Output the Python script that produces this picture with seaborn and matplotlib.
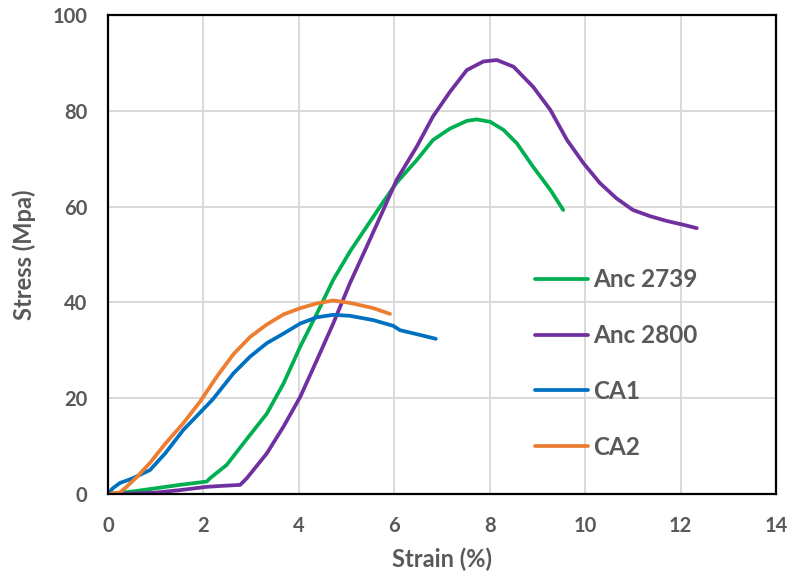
import matplotlib
matplotlib.use("Agg")
import matplotlib.pyplot as plt
import seaborn as sns
import pandas as pd

# Stress-strain curves (strain in %, stress in MPa)
anc2739_strain = [0, 0.5, 1.0, 1.5, 2.07, 2.14, 2.49, 2.84, 3.33, 3.68, 4.03, 4.38, 4.72,
                  5.07, 5.42, 5.77, 6.05, 6.47, 6.81, 7.17, 7.52, 7.73, 8.01, 8.29, 8.57,
                  8.91, 9.27, 9.54]
anc2739_stress = [0, 0.5, 1.2, 1.9, 2.6, 3.3, 6.1, 10.6, 16.8, 23.1, 30.8, 37.7, 44.7,
                  50.6, 55.8, 61.0, 65.0, 69.7, 73.9, 76.3, 77.9, 78.2, 77.7, 76.0, 73.2,
                  68.3, 63.5, 59.3]

anc2800_strain = [0, 0.5, 1.0, 1.5, 2.07, 2.4, 2.77, 2.91, 3.33, 3.68, 4.03, 4.38, 4.72,
                  5.07, 5.42, 5.77, 6.05, 6.47, 6.81, 7.17, 7.52, 7.87, 8.15, 8.5, 8.91,
                  9.27, 9.62, 9.97, 10.31, 10.66, 11.0, 11.36, 11.71, 12.06, 12.34]
anc2800_stress = [0, 0.1, 0.3, 0.8, 1.5, 1.7, 1.9, 3.3, 8.5, 14.1, 20.3, 28.0, 35.6,
                  44.0, 51.6, 59.3, 65.6, 72.5, 78.8, 84.0, 88.5, 90.3, 90.6, 89.2, 85.0,
                  80.2, 73.9, 69.0, 64.9, 61.7, 59.3, 58.0, 57.0, 56.2, 55.5]

ca1_strain = [0, 0.1, 0.25, 0.5, 0.88, 1.2, 1.58, 1.93, 2.2, 2.63, 2.98, 3.33, 3.68,
              4.03, 4.38, 4.72, 5.07, 5.56, 5.98, 6.12, 6.5, 6.87]
ca1_stress = [0, 1.2, 2.3, 3.2, 5.0, 8.5, 13.4, 17.0, 19.8, 25.2, 28.7, 31.5, 33.5,
              35.6, 36.9, 37.4, 37.2, 36.3, 35.1, 34.2, 33.3, 32.4]

ca2_strain = [0, 0.25, 0.39, 0.6, 0.88, 1.2, 1.58, 1.93, 2.28, 2.63, 2.98, 3.33, 3.68,
              4.03, 4.38, 4.72, 5.07, 5.56, 5.91]
ca2_stress = [0, 0.3, 1.5, 3.5, 6.5, 10.5, 14.8, 19.3, 24.5, 29.2, 32.8, 35.4, 37.5,
              38.8, 39.8, 40.4, 39.9, 38.8, 37.6]

series_names = ["Anc 2739", "Anc 2800", "CA1", "CA2"]
series_colors = ["#00B050", "#7030A0", "#0070C0", "#ED7D31"]
x_ticks = [0, 2, 4, 6, 8, 10, 12, 14]
y_ticks = [0, 20, 40, 60, 80, 100]

frames = []
for name, xs, ys in zip(series_names,
                        [anc2739_strain, anc2800_strain, ca1_strain, ca2_strain],
                        [anc2739_stress, anc2800_stress, ca1_stress, ca2_stress]):
    frames.append(pd.DataFrame({"strain": xs, "stress": ys, "sample": name}))
df = pd.concat(frames, ignore_index=True)

sns.set_theme(style="white")
text_color = "#595959"
plt.rcParams["font.family"] = ["Lato", "DejaVu Sans"]
plt.rcParams["font.weight"] = "bold"

fig = plt.figure(figsize=(7.92, 5.78), dpi=100)
ax = fig.add_axes([108 / 792, 1 - 494 / 578, 668 / 792, 479 / 578])

sns.lineplot(data=df, x="strain", y="stress", hue="sample", hue_order=series_names,
             palette=series_colors, sort=False, estimator=None, linewidth=2.7,
             ax=ax, legend=False)

ax.set_xlim(0, 14)
ax.set_ylim(0, 100)
ax.set_xticks(x_ticks)
ax.set_yticks(y_ticks)
ax.grid(True, color="#D9D9D9", linewidth=1.4)
ax.set_axisbelow(True)
for sp in ax.spines.values():
    sp.set_visible(True)
    sp.set_color("black")
    sp.set_linewidth(1.6)

ax.tick_params(axis="both", length=0, labelsize=14.5, labelcolor=text_color)
ax.tick_params(axis="x", pad=16)
ax.tick_params(axis="y", pad=15)
for lbl in ax.get_xticklabels() + ax.get_yticklabels():
    lbl.set_fontweight("bold")

ax.set_xlabel("Strain (%)", fontsize=17, fontweight="bold", color=text_color, labelpad=8)
ax.set_ylabel("Stress (Mpa)", fontsize=17, fontweight="bold", color=text_color, labelpad=12)

handles = [plt.Line2D([], [], color=c, linewidth=2.7) for c in series_colors]
leg = ax.legend(handles, series_names, loc="center left", bbox_to_anchor=(0.639, 0.2724),
                frameon=False, borderpad=0, borderaxespad=0,
                handlelength=2.18, handletextpad=0.2, labelspacing=1.35,
                prop={"weight": "bold", "size": 17.5})
for t in leg.get_texts():
    t.set_color(text_color)

fig.savefig("out.png", dpi=100)
